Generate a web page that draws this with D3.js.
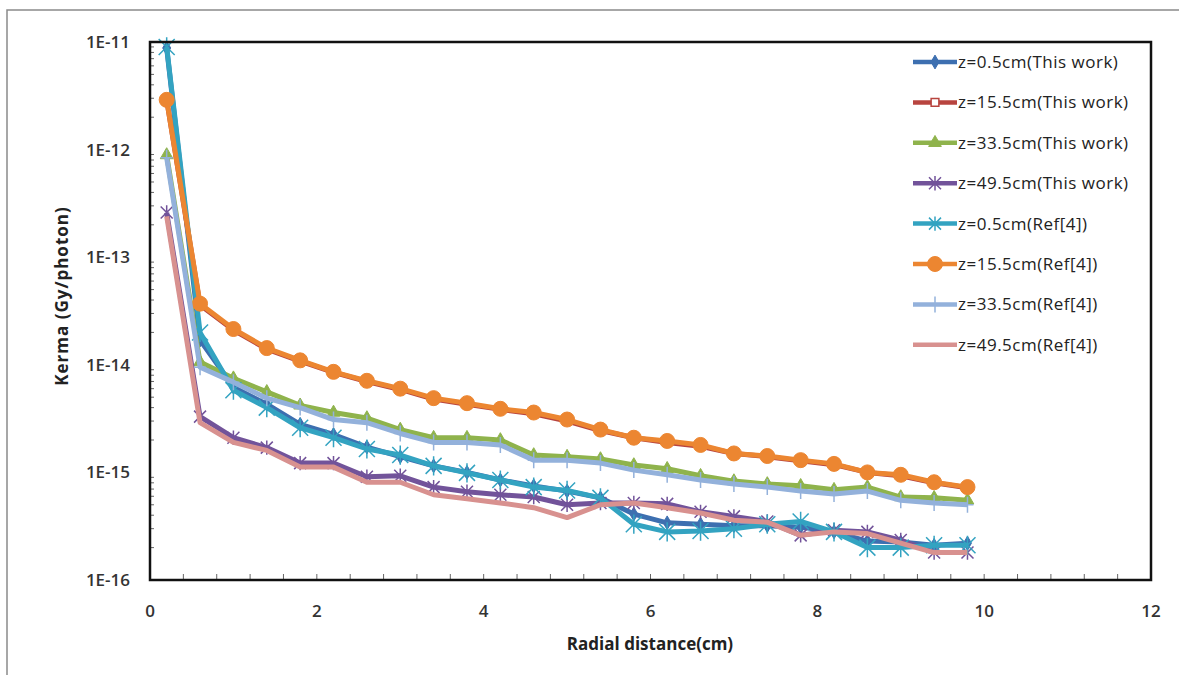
<!DOCTYPE html>
<html>
<head>
<meta charset="utf-8">
<script src="https://d3js.org/d3.v7.min.js"></script>
<style>
  body { margin: 0; background: #fff; }
  text { font-family: "Open Sans", "Noto Sans", sans-serif; }
</style>
</head>
<body>
<script>
// radial distance (cm)
var radial = [0.2, 0.6, 1.0, 1.4, 1.8, 2.2, 2.6, 3.0, 3.4, 3.8, 4.2, 4.6, 5.0,
              5.4, 5.8, 6.2, 6.6, 7.0, 7.4, 7.8, 8.2, 8.6, 9.0, 9.4, 9.8];

var z05This  = [8.8e-12, 1.7e-14, 6.2e-15, 4.3e-15, 2.8e-15, 2.25e-15, 1.72e-15, 1.4e-15, 1.15e-15, 1.0e-15, 8.5e-16, 7.5e-16, 6.7e-16,
                5.8e-16, 4.1e-16, 3.4e-16, 3.3e-16, 3.2e-16, 3.2e-16, 3.1e-16, 2.8e-16, 2.3e-16, 2.25e-16, 2.1e-16, 2.2e-16];
var z155This = [2.9e-12, 3.6e-14, 2.1e-14, 1.4e-14, 1.08e-14, 8.5e-15, 7.0e-15, 5.9e-15, 4.8e-15, 4.3e-15, 3.85e-15, 3.5e-15, 3.0e-15,
                2.45e-15, 2.1e-15, 1.9e-15, 1.75e-15, 1.5e-15, 1.4e-15, 1.28e-15, 1.18e-15, 1.0e-15, 9.3e-16, 8.0e-16, 7.2e-16];
var z335This = [8.9e-13, 1.06e-14, 7.5e-15, 5.6e-15, 4.2e-15, 3.6e-15, 3.2e-15, 2.5e-15, 2.1e-15, 2.1e-15, 2.0e-15, 1.45e-15, 1.4e-15,
                1.33e-15, 1.17e-15, 1.08e-15, 9.3e-16, 8.3e-16, 7.8e-16, 7.5e-16, 6.9e-16, 7.3e-16, 5.9e-16, 5.8e-16, 5.5e-16];
var z495This = [2.6e-13, 3.3e-15, 2.1e-15, 1.7e-15, 1.22e-15, 1.22e-15, 9.1e-16, 9.3e-16, 7.3e-16, 6.6e-16, 6.2e-16, 5.9e-16, 5.0e-16,
                5.2e-16, 5.2e-16, 5.1e-16, 4.3e-16, 3.9e-16, 3.5e-16, 2.6e-16, 2.9e-16, 2.8e-16, 2.35e-16, 1.8e-16, 1.8e-16];
var z05Ref   = [9.0e-12, 2.0e-14, 5.8e-15, 4.0e-15, 2.6e-15, 2.1e-15, 1.65e-15, 1.45e-15, 1.15e-15, 9.9e-16, 8.5e-16, 7.3e-16, 6.8e-16,
                5.8e-16, 3.3e-16, 2.8e-16, 2.85e-16, 3.0e-16, 3.3e-16, 3.5e-16, 2.8e-16, 2.0e-16, 2.0e-16, 2.1e-16, 2.1e-16];
var z155Ref  = [2.9e-12, 3.7e-14, 2.15e-14, 1.43e-14, 1.1e-14, 8.6e-15, 7.1e-15, 6.0e-15, 4.9e-15, 4.4e-15, 3.9e-15, 3.6e-15, 3.1e-15,
                2.5e-15, 2.1e-15, 1.96e-15, 1.8e-15, 1.5e-15, 1.42e-15, 1.3e-15, 1.2e-15, 1.0e-15, 9.5e-16, 8.1e-16, 7.3e-16];
var z335Ref  = [8.4e-13, 9.5e-15, 6.9e-15, 4.9e-15, 4.0e-15, 3.1e-15, 2.9e-15, 2.3e-15, 1.9e-15, 1.9e-15, 1.8e-15, 1.3e-15, 1.3e-15,
                1.22e-15, 1.05e-15, 9.5e-16, 8.5e-16, 7.8e-16, 7.3e-16, 6.7e-16, 6.3e-16, 6.7e-16, 5.5e-16, 5.2e-16, 5.0e-16];
var z495Ref  = [2.4e-13, 2.9e-15, 1.9e-15, 1.6e-15, 1.12e-15, 1.12e-15, 8.1e-16, 8.1e-16, 6.2e-16, 5.7e-16, 5.2e-16, 4.7e-16, 3.8e-16,
                5.0e-16, 5.2e-16, 4.7e-16, 4.2e-16, 3.6e-16, 3.45e-16, 2.6e-16, 2.8e-16, 2.7e-16, 2.2e-16, 1.8e-16, 1.8e-16];

var seriesNames = ["z=0.5cm(This work)", "z=15.5cm(This work)", "z=33.5cm(This work)", "z=49.5cm(This work)",
                   "z=0.5cm(Ref[4])", "z=15.5cm(Ref[4])", "z=33.5cm(Ref[4])", "z=49.5cm(Ref[4])"];
var seriesValues = [z05This, z155This, z335This, z495This, z05Ref, z155Ref, z335Ref, z495Ref];
var seriesColors = ["#3d6fb0", "#b8443f", "#8fb34c", "#72539a", "#33a3c1", "#ec8631", "#93b1db", "#d8918f"];
var seriesMarkers = ["diamond", "square", "triangle", "star", "bigstar", "circle", "plus", "none"];

var yTicks = [1e-11, 1e-12, 1e-13, 1e-14, 1e-15, 1e-16];
var yTickLabels = ["1E-11", "1E-12", "1E-13", "1E-14", "1E-15", "1E-16"];
var xTicks = [0, 2, 4, 6, 8, 10, 12];

var W = 1179, H = 675;
var pLeft = 150, pRight = 1151, pTop = 42, pBottom = 580;

var svg = d3.select("body").append("svg")
    .attr("width", W).attr("height", H);

// outer chart border
svg.append("rect")
    .attr("x", 7).attr("y", 10).attr("width", 1200).attr("height", 700)
    .attr("fill", "none").attr("stroke", "#8a8a8a").attr("stroke-width", 1.5);

var x = d3.scaleLinear().domain([0, 12]).range([pLeft, pRight]);
var y = d3.scaleLog().domain([1e-16, 1e-11]).range([pBottom, pTop]);

// y minor ticks (inside)
var minor = [];
for (var e = -16; e < -11; e++) {
  for (var m = 2; m <= 9; m++) minor.push(m * Math.pow(10, e));
}
svg.append("g").selectAll("line").data(minor).enter().append("line")
    .attr("x1", pLeft).attr("x2", pLeft + 4)
    .attr("y1", function (d) { return y(d); })
    .attr("y2", function (d) { return y(d); })
    .attr("stroke", "#666").attr("stroke-width", 1);

// x ticks every 0.4 (inside)
var xMinor = d3.range(1, 30).map(function (i) { return i * 0.4; });
svg.append("g").selectAll("line").data(xMinor).enter().append("line")
    .attr("x1", function (d) { return x(d); })
    .attr("x2", function (d) { return x(d); })
    .attr("y1", pBottom).attr("y2", pBottom - 6)
    .attr("stroke", "#666").attr("stroke-width", 1);

// tick labels
svg.append("g").selectAll("text").data(yTicks).enter().append("text")
    .attr("x", 130).attr("y", function (d) { return y(d); })
    .attr("dy", "0.35em").attr("text-anchor", "end")
    .attr("font-size", 17).attr("font-weight", 600).attr("fill", "#333")
    .text(function (d, i) { return yTickLabels[i]; });

svg.append("g").selectAll("text").data(xTicks).enter().append("text")
    .attr("x", function (d) { return x(d); }).attr("y", 611)
    .attr("dy", "0.35em").attr("text-anchor", "middle")
    .attr("font-size", 17).attr("font-weight", 600).attr("fill", "#333")
    .text(function (d) { return d; });

// axis titles
svg.append("text")
    .attr("x", 650).attr("y", 644).attr("dy", "0.35em")
    .attr("text-anchor", "middle").attr("font-size", 17).attr("font-weight", "bold")
    .attr("fill", "#222").text("Radial distance(cm)");

svg.append("text")
    .attr("transform", "translate(62,296) rotate(-90)")
    .attr("dy", "0.35em").attr("text-anchor", "middle")
    .attr("font-size", 17).attr("font-weight", "bold").attr("letter-spacing", 1)
    .attr("fill", "#222").text("Kerma (Gy/photon)");

function drawMarker(g, type, color) {
  if (type === "diamond") {
    g.append("path").attr("d", d3.symbol(d3.symbolDiamond, 55)())
      .attr("fill", color).attr("stroke", color);
  } else if (type === "square") {
    g.append("path").attr("d", d3.symbol(d3.symbolSquare, 60)())
      .attr("fill", "#fff").attr("stroke", color).attr("stroke-width", 1.5);
  } else if (type === "triangle") {
    g.append("path").attr("d", d3.symbol(d3.symbolTriangle, 70)())
      .attr("fill", color).attr("stroke", color);
  } else if (type === "star" || type === "bigstar") {
    var r = type === "star" ? 6 : 8;
    g.append("path")
      .attr("d", "M" + (-r) + "," + (-r) + "L" + r + "," + r +
                 "M" + (-r) + "," + r + "L" + r + "," + (-r) +
                 "M0," + (-r * 1.2) + "L0," + (r * 1.2))
      .attr("fill", "none").attr("stroke", color).attr("stroke-width", 1.5);
  } else if (type === "circle") {
    g.append("circle").attr("r", 7.5).attr("fill", color).attr("stroke", color);
  } else if (type === "plus") {
    g.append("path")
      .attr("d", "M-6,0L6,0M0,-8L0,8")
      .attr("fill", "none").attr("stroke", color).attr("stroke-width", 1.5);
  }
}

var line = d3.line()
    .x(function (d, i) { return x(radial[i]); })
    .y(function (d) { return y(d); });

var plot = svg.append("g");
seriesValues.forEach(function (vals, si) {
  var g = plot.append("g");
  g.append("path").datum(vals)
    .attr("d", line)
    .attr("fill", "none")
    .attr("stroke", seriesColors[si])
    .attr("stroke-width", 5)
    .attr("stroke-linejoin", "round");
  vals.forEach(function (v, i) {
    var mg = g.append("g").attr("transform", "translate(" + x(radial[i]) + "," + y(v) + ")");
    drawMarker(mg, seriesMarkers[si], seriesColors[si]);
  });
});

// plot frame
svg.append("rect")
    .attr("x", pLeft).attr("y", pTop)
    .attr("width", pRight - pLeft).attr("height", pBottom - pTop)
    .attr("fill", "none").attr("stroke", "#111").attr("stroke-width", 2.5);

// legend
var legend = svg.append("g");
seriesNames.forEach(function (name, i) {
  var ly = 62 + i * 40.4;
  legend.append("line")
    .attr("x1", 913).attr("x2", 957).attr("y1", ly).attr("y2", ly)
    .attr("stroke", seriesColors[i]).attr("stroke-width", 4.5);
  var mg = legend.append("g").attr("transform", "translate(935," + ly + ")");
  drawMarker(mg, seriesMarkers[i] === "bigstar" ? "star" : seriesMarkers[i], seriesColors[i]);
  legend.append("text")
    .attr("x", 958).attr("y", ly).attr("dy", "0.35em")
    .attr("font-size", 17).attr("letter-spacing", 0.5).attr("fill", "#222")
    .text(name);
});
</script>
</body>
</html>
